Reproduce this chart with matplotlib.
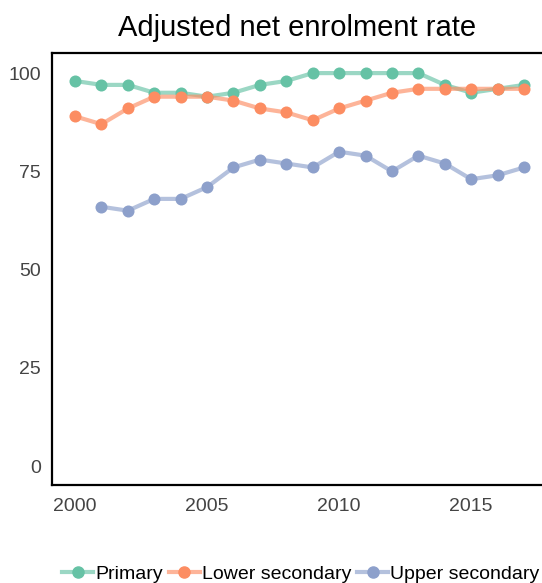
import matplotlib
matplotlib.use("Agg")
import matplotlib.pyplot as plt

plt.rcParams["font.family"] = ["Liberation Sans", "DejaVu Sans"]

years = list(range(2000, 2018))
primary = [98, 97, 97, 95, 95, 94, 95, 97, 98, 100, 100, 100, 100, 100, 97, 95, 96, 97]
lower_secondary = [89, 87, 91, 94, 94, 94, 93, 91, 90, 88, 91, 93, 95, 96, 96, 96, 96, 96]
upper_years = list(range(2001, 2018))
upper_secondary = [66, 65, 68, 68, 71, 76, 78, 77, 76, 80, 79, 75, 79, 77, 73, 74, 76]

colors = ["#66c2a5", "#fc8d62", "#8da0cb"]

fig = plt.figure(figsize=(5.42, 5.83), dpi=100)
ax = fig.add_axes([0.096, 0.168, 0.904, 0.741])

series = [
    (years, primary, "Primary"),
    (years, lower_secondary, "Lower secondary"),
    (upper_years, upper_secondary, "Upper secondary"),
]
handles = []
for (x, y, label), c in zip(series, colors):
    ax.plot(x, y, color=c, lw=3, alpha=0.65, solid_capstyle="round", zorder=2)
    ax.scatter(x, y, color=c, s=75, zorder=3, linewidths=0)
    h, = ax.plot([], [], color=c, lw=3, alpha=0.65)
    m, = ax.plot([], [], color=c, marker="o", ms=8, lw=0)
    handles.append(((h, m), label))

ax.set_xlim(1999.13, 2017.68)
ax.set_ylim(-4.8, 105.1)
ax.set_xticks([2000, 2005, 2010, 2015])
ax.set_yticks([0, 25, 50, 75, 100])
ax.tick_params(length=0, labelsize=14, colors="#444444")
ax.tick_params(axis="y", pad=8)
ax.tick_params(axis="x", pad=9)
for s in ax.spines.values():
    s.set_linewidth(1.6)
    s.set_color("black")
ax.spines["right"].set_visible(False)

ax.set_title("Adjusted net enrolment rate", fontsize=21, pad=12)

fig.legend(
    [h for h, _ in handles],
    [l for _, l in handles],
    loc="lower center",
    bbox_to_anchor=(0.555, -0.03),
    ncol=3,
    frameon=False,
    fontsize=14,
    handlelength=1.6,
    handletextpad=0.1,
    columnspacing=0.3,
)

fig.savefig("out.png", dpi=100)
